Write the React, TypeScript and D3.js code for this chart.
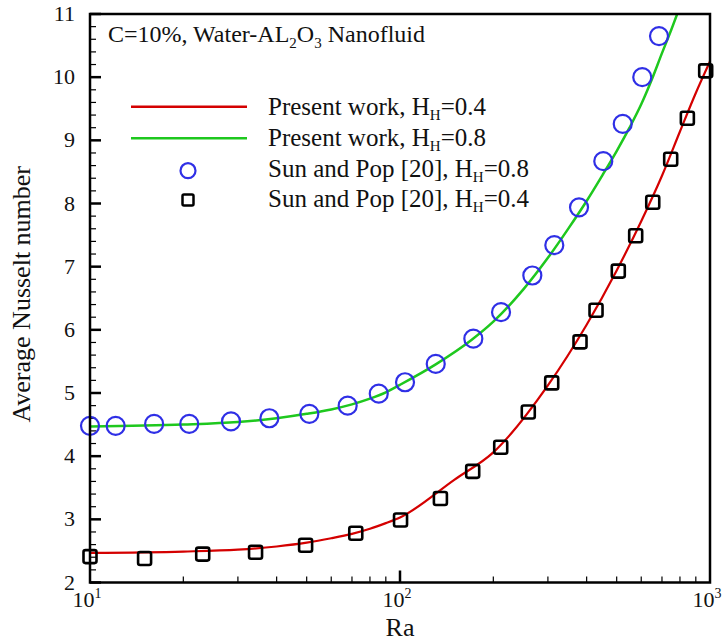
import React from 'react';
import * as d3 from 'd3';

// Sun and Pop [20], H_H = 0.8 (circles)
const raCircles = [10, 12.1, 16.1, 20.9, 28.5, 37.9, 51, 67.8, 85.4, 103.8, 130.4, 172.4, 211.8, 267.2, 314.6, 378, 452.6, 523, 604.6, 684.7];
const nuCircles = [4.48, 4.48, 4.51, 4.51, 4.55, 4.6, 4.67, 4.8, 4.99, 5.17, 5.46, 5.86, 6.28, 6.86, 7.34, 7.94, 8.67, 9.26, 10.0, 10.65];

// Sun and Pop [20], H_H = 0.4 (squares)
const raSquares = [10, 15, 23.1, 34.2, 49.6, 72, 100.4, 135, 171.6, 211.3, 259.3, 308.6, 380.8, 428.9, 506, 575.8, 653.6, 746.8, 845.2, 968.5];
const nuSquares = [2.41, 2.38, 2.45, 2.48, 2.59, 2.78, 2.99, 3.33, 3.76, 4.14, 4.7, 5.16, 5.81, 6.31, 6.93, 7.49, 8.02, 8.7, 9.35, 10.1];

// Present work, H_H = 0.4
const raLine04 = [10, 20, 30, 40, 50, 60, 70, 80, 90, 100, 150, 200, 300, 400, 500, 600, 700, 800, 900, 1000];
const nuLine04 = [2.47, 2.49, 2.52, 2.57, 2.63, 2.7, 2.77, 2.85, 2.94, 3.03, 3.63, 4.06, 5.12, 6.08, 6.94, 7.72, 8.44, 9.14, 9.75, 10.25];

// Present work, H_H = 0.8
const raLine08 = [10, 20, 30, 40, 50, 60, 70, 80, 90, 100, 130, 170, 200, 250, 300, 350, 400, 450, 500, 550, 600, 650, 700, 750, 800];
const nuLine08 = [4.47, 4.5, 4.54, 4.6, 4.67, 4.74, 4.82, 4.91, 5.01, 5.13, 5.45, 5.84, 6.13, 6.64, 7.14, 7.61, 8.04, 8.45, 8.83, 9.2, 9.57, 9.97, 10.38, 10.75, 11.12];

const yTicks = [2, 3, 4, 5, 6, 7, 8, 9, 10, 11];
const xExponents = [1, 2, 3];

const legendItems = [
  { t: 'Present work, H', v: '=0.4' },
  { t: 'Present work, H', v: '=0.8' },
  { t: 'Sun and Pop [20], H', v: '=0.8' },
  { t: 'Sun and Pop [20], H', v: '=0.4' },
];

const FONT = '"Liberation Serif", "Times New Roman", serif';

export default function App() {
  const W = 723, H = 642;
  const left = 90, right = 710, top = 14, bottom = 582.5;
  const x = d3.scaleLog().domain([10, 1000]).range([left, right]);
  const y = d3.scaleLinear().domain([2, 11]).range([bottom, top]);

  const pts04 = raLine04.map((r, i) => [r, nuLine04[i]] as [number, number]);
  const pts08 = raLine08.map((r, i) => [r, nuLine08[i]] as [number, number]);
  const line = d3.line<[number, number]>().x(d => x(d[0])).y(d => y(d[1])).curve(d3.curveMonotoneX);

  const yMinor: number[] = [];
  for (let v = 2; v < 11; v += 1) for (let k = 1; k < 5; k++) yMinor.push(v + k * 0.2);
  const xMinor: number[] = [];
  [10, 100].forEach(b => { for (let k = 2; k <= 9; k++) xMinor.push(b * k); });

  const red = '#d40000';
  const green = '#1ec81e';
  const blue = '#2f2fe6';
  const legendBase = [115, 146, 177, 207];

  return (
    <div style={{ position: 'absolute', left: 0, top: 0 }}>
      <svg width={W} height={H} style={{ display: 'block', background: '#fff' }} fontFamily={FONT}>
        <defs>
          <clipPath id="plotclip">
            <rect x={left} y={top} width={right - left} height={bottom - top} />
          </clipPath>
        </defs>
        <rect x={0} y={0} width={W} height={H} fill="#fff" />

        {/* ticks */}
        {yMinor.map((v, i) => (
          <line key={'ym' + i} x1={left} x2={left + 6} y1={y(v)} y2={y(v)} stroke="#000" strokeWidth={1.2} />
        ))}
        {yTicks.map(v => (
          <line key={'yM' + v} x1={left} x2={left + 11} y1={y(v)} y2={y(v)} stroke="#000" strokeWidth={2.5} />
        ))}
        {xMinor.map((v, i) => (
          <line key={'xm' + i} x1={x(v)} x2={x(v)} y1={bottom} y2={bottom - 6} stroke="#000" strokeWidth={1.2} />
        ))}
        <line x1={x(100)} x2={x(100)} y1={bottom} y2={bottom - 12} stroke="#000" strokeWidth={2.5} />

        {/* lines */}
        <g clipPath="url(#plotclip)">
          <path d={line(pts04) || ''} fill="none" stroke={red} strokeWidth={2.2} />
          <path d={line(pts08) || ''} fill="none" stroke={green} strokeWidth={2.5} />
        </g>

        {/* markers */}
        {raCircles.map((r, i) => (
          <circle key={'c' + i} cx={x(r)} cy={y(nuCircles[i])} r={9} fill="none" stroke={blue} strokeWidth={2.2} />
        ))}
        {raSquares.map((r, i) => (
          <rect key={'s' + i} x={x(r) - 6.5} y={y(nuSquares[i]) - 6.5} width={13} height={13} rx={2} fill="none" stroke="#000" strokeWidth={2.6} />
        ))}

        {/* frame */}
        <rect x={left} y={top} width={right - left} height={bottom - top} fill="none" stroke="#000" strokeWidth={2.5} />

        {/* y tick labels */}
        {yTicks.map(v => (
          <text key={'yl' + v} x={75} y={y(v) + 7} fontSize={22} textAnchor="end" fill="#111">{v}</text>
        ))}
        {/* x tick labels */}
        {xExponents.map(e => (
          <text key={'xl' + e} x={x(Math.pow(10, e)) - 3} y={607} fontSize={22} textAnchor="middle" fill="#111">
            10<tspan fontSize={14} dy={-9}>{e}</tspan>
          </text>
        ))}

        {/* axis titles */}
        <text x={400} y={636} fontSize={26} textAnchor="middle" fill="#111">Ra</text>
        <text transform={`translate(30, ${(top + bottom) / 2 - 4}) rotate(-90)`} fontSize={26} textAnchor="middle" fill="#111">Average Nusselt number</text>

        {/* annotation */}
        <text x={108} y={42} fontSize={24} fill="#111">
          C=10%, Water-AL<tspan fontSize={15} dy={6}>2</tspan><tspan dy={-6}>O</tspan><tspan fontSize={15} dy={6}>3</tspan><tspan dy={-6}> Nanofluid</tspan>
        </text>

        {/* legend */}
        <line x1={131} x2={247} y1={106.7} y2={106.7} stroke={red} strokeWidth={2.5} />
        <line x1={131} x2={247} y1={138.3} y2={138.3} stroke={green} strokeWidth={2.5} />
        <circle cx={188} cy={170.7} r={7.5} fill="none" stroke={blue} strokeWidth={2.2} />
        <rect x={182.5} y={194.5} width={11} height={11} rx={1.5} fill="none" stroke="#000" strokeWidth={2.5} />
        {legendItems.map((d, i) => (
          <text key={'lg' + i} x={268} y={legendBase[i]} fontSize={25} fill="#111">
            {d.t}<tspan fontSize={15} dy={5}>H</tspan><tspan dy={-5}>{d.v}</tspan>
          </text>
        ))}
      </svg>
    </div>
  );
}
